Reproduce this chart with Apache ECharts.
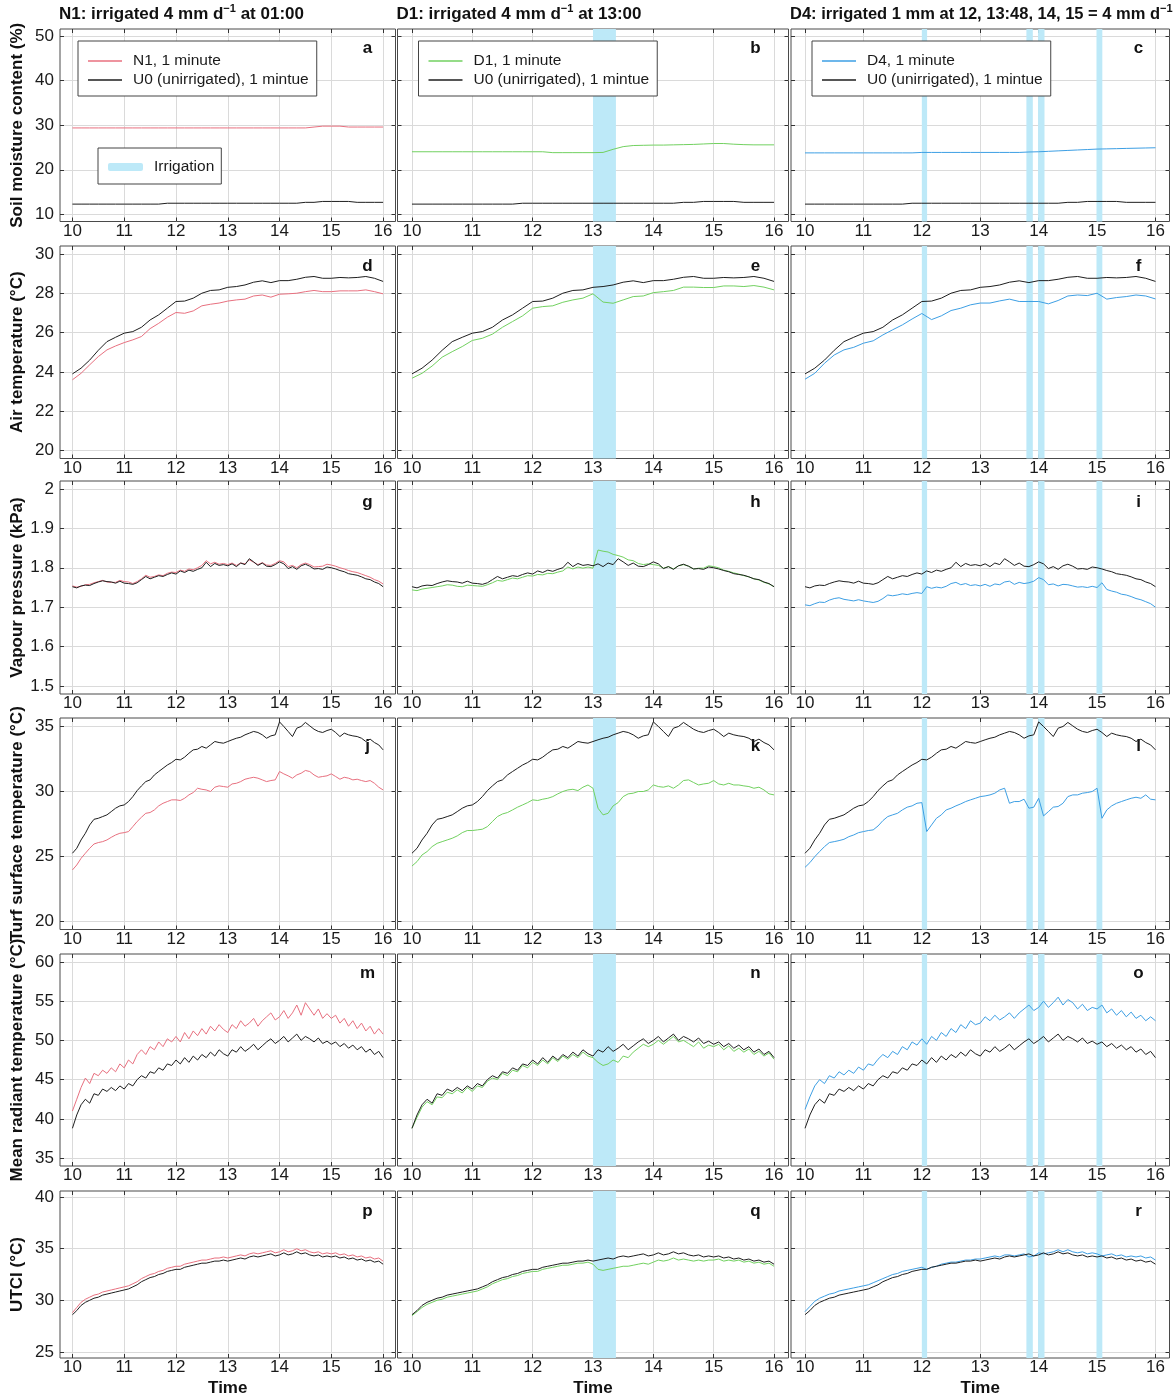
<!DOCTYPE html>
<html>
<head>
<meta charset="utf-8">
<title>Irrigation timing: soil moisture and microclimate, 10:00-16:00</title>
<script src="https://cdn.jsdelivr.net/npm/echarts@6/dist/echarts.min.js"></script>
<style>
  html, body { margin: 0; padding: 0; background: #fff; }
  #chart { width: 1175px; height: 1399px; }
</style>
</head>
<body>
<div id="chart"></div>
<script>
// ---- data ----
// x = hour of day; rows 1-2 sampled every 10 min, rows 3-6 every 5 min
const hourTicks = [10, 11, 12, 13, 14, 15, 16];
const soilTicks = [10, 20, 30, 40, 50];
const airTicks = [20, 22, 24, 26, 28, 30];
const vapourTicks = [1.5, 1.6, 1.7, 1.8, 1.9, 2];
const turfTicks = [20, 25, 30, 35];
const mrtTicks = [35, 40, 45, 50, 55, 60];
const utciTicks = [25, 30, 35, 40];

// irrigation windows, decimal hours
const irrigationD1 = [[13.0, 13.38]];
const irrigationD4 = [[12.0, 12.09], [13.79, 13.9], [13.99, 14.1], [14.99, 15.09]];

// soil moisture content (%)
const soilU0 = [12.3, 12.3, 12.3, 12.3, 12.3, 12.3, 12.3, 12.3, 12.3, 12.3, 12.3, 12.5,
  12.5, 12.5, 12.5, 12.5, 12.5, 12.5, 12.5, 12.5, 12.5, 12.5, 12.5, 12.5,
  12.5, 12.5, 12.5, 12.7, 12.7, 12.9, 12.9, 12.9, 12.9, 12.7, 12.7, 12.7, 12.7];
const soilN1 = [29.4, 29.4, 29.4, 29.4, 29.4, 29.4, 29.4, 29.4, 29.4, 29.4, 29.4, 29.4,
  29.4, 29.4, 29.4, 29.4, 29.4, 29.4, 29.4, 29.4, 29.4, 29.4, 29.4, 29.4,
  29.4, 29.4, 29.4, 29.4, 29.6, 29.8, 29.8, 29.8, 29.6, 29.6, 29.6, 29.6, 29.6];
const soilD1 = [24.05, 24.05, 24.05, 24.05, 24.05, 24.05, 24.05, 24.05, 24.05, 24.05, 24.05, 24.05,
  24.05, 24.05, 23.85, 23.85, 23.85, 23.85, 23.85, 23.9, 24.6, 25.2, 25.45, 25.5,
  25.55, 25.55, 25.6, 25.65, 25.7, 25.8, 25.9, 25.9, 25.75, 25.65, 25.6, 25.6, 25.6];
const soilD4 = [23.8, 23.8, 23.8, 23.8, 23.8, 23.8, 23.8, 23.8, 23.8, 23.8, 23.8, 23.8,
  23.9, 23.9, 23.9, 23.9, 23.9, 23.9, 23.9, 23.9, 23.9, 23.9, 23.9, 24.0,
  24.05, 24.15, 24.25, 24.35, 24.45, 24.55, 24.65, 24.7, 24.75, 24.8, 24.85, 24.9, 24.95];

// air temperature (°C)
const airU0 = [23.9, 24.19, 24.6, 25.1, 25.54, 25.76, 25.97, 26.05, 26.27, 26.64, 26.9, 27.24,
  27.58, 27.6, 27.75, 28.0, 28.14, 28.17, 28.3, 28.34, 28.42, 28.56, 28.63, 28.54,
  28.64, 28.64, 28.71, 28.81, 28.85, 28.76, 28.76, 28.8, 28.78, 28.8, 28.85, 28.76, 28.6];
const airN1 = [23.6, 23.93, 24.36, 24.78, 25.12, 25.32, 25.49, 25.63, 25.8, 26.2, 26.47, 26.78,
  27.02, 26.98, 27.1, 27.36, 27.44, 27.5, 27.6, 27.66, 27.7, 27.86, 27.91, 27.8,
  27.95, 27.97, 28.0, 28.08, 28.14, 28.08, 28.08, 28.12, 28.12, 28.12, 28.17, 28.08, 27.97];
const airD1 = [23.68, 23.93, 24.3, 24.75, 25.03, 25.29, 25.6, 25.71, 25.92, 26.27, 26.56, 26.85,
  27.24, 27.32, 27.36, 27.54, 27.66, 27.75, 27.97, 27.55, 27.49, 27.66, 27.83, 27.86,
  28.03, 28.08, 28.14, 28.31, 28.31, 28.29, 28.29, 28.37, 28.37, 28.34, 28.39, 28.31, 28.17];
const airD4 = [23.63, 23.93, 24.44, 24.86, 25.12, 25.25, 25.46, 25.58, 25.88, 26.14, 26.39, 26.69,
  26.97, 26.66, 26.85, 27.12, 27.24, 27.41, 27.5, 27.5, 27.61, 27.7, 27.58, 27.58,
  27.58, 27.46, 27.63, 27.86, 27.91, 27.88, 28.0, 27.7, 27.78, 27.83, 27.91, 27.86, 27.71];

// vapour pressure (kPa)
const vapourU0 = [1.752, 1.749, 1.754, 1.756, 1.755, 1.760, 1.764, 1.767, 1.765, 1.764, 1.761, 1.766,
  1.761, 1.760, 1.758, 1.762, 1.770, 1.778, 1.772, 1.776, 1.780, 1.778, 1.783, 1.787,
  1.784, 1.792, 1.788, 1.794, 1.791, 1.796, 1.800, 1.814, 1.803, 1.811, 1.806, 1.808,
  1.805, 1.810, 1.803, 1.812, 1.808, 1.823, 1.815, 1.806, 1.812, 1.804, 1.803, 1.808,
  1.815, 1.810, 1.798, 1.803, 1.796, 1.805, 1.809, 1.804, 1.797, 1.798, 1.796, 1.802,
  1.800, 1.797, 1.793, 1.790, 1.785, 1.783, 1.781, 1.777, 1.772, 1.770, 1.764, 1.760, 1.752];
const vapourN1 = [1.754, 1.751, 1.753, 1.757, 1.758, 1.762, 1.765, 1.768, 1.764, 1.763, 1.763, 1.768,
  1.765, 1.764, 1.760, 1.765, 1.772, 1.781, 1.776, 1.778, 1.782, 1.780, 1.786, 1.789,
  1.788, 1.794, 1.791, 1.797, 1.795, 1.800, 1.806, 1.818, 1.810, 1.814, 1.809, 1.811,
  1.808, 1.812, 1.806, 1.812, 1.810, 1.820, 1.814, 1.808, 1.813, 1.807, 1.806, 1.811,
  1.818, 1.815, 1.803, 1.806, 1.800, 1.808, 1.812, 1.808, 1.802, 1.803, 1.804, 1.809,
  1.807, 1.804, 1.800, 1.797, 1.793, 1.790, 1.788, 1.784, 1.780, 1.776, 1.770, 1.766, 1.759];
const vapourD1 = [1.744, 1.742, 1.746, 1.748, 1.750, 1.752, 1.754, 1.757, 1.756, 1.753, 1.752, 1.756,
  1.755, 1.754, 1.753, 1.757, 1.762, 1.768, 1.766, 1.770, 1.774, 1.772, 1.776, 1.780,
  1.779, 1.783, 1.782, 1.786, 1.785, 1.789, 1.792, 1.802, 1.797, 1.802, 1.799, 1.802,
  1.799, 1.845, 1.842, 1.840, 1.834, 1.831, 1.827, 1.820, 1.818, 1.811, 1.808, 1.810,
  1.808, 1.806, 1.799, 1.803, 1.797, 1.805, 1.808, 1.804, 1.797, 1.799, 1.799, 1.805,
  1.803, 1.800, 1.794, 1.791, 1.787, 1.784, 1.780, 1.777, 1.772, 1.769, 1.763, 1.759, 1.752];
const vapourD4 = [1.706, 1.704, 1.709, 1.713, 1.712, 1.718, 1.722, 1.724, 1.720, 1.718, 1.716, 1.719,
  1.716, 1.714, 1.712, 1.715, 1.722, 1.731, 1.729, 1.731, 1.734, 1.732, 1.735, 1.737,
  1.735, 1.752, 1.748, 1.751, 1.749, 1.753, 1.760, 1.763, 1.757, 1.760, 1.755, 1.757,
  1.754, 1.758, 1.753, 1.759, 1.757, 1.764, 1.766, 1.758, 1.763, 1.760, 1.762, 1.766,
  1.775, 1.770, 1.757, 1.759, 1.754, 1.758, 1.757, 1.754, 1.751, 1.752, 1.750, 1.753,
  1.750, 1.762, 1.745, 1.741, 1.738, 1.733, 1.731, 1.727, 1.722, 1.719, 1.714, 1.709, 1.700];

// turf surface temperature (°C)
const turfU0 = [25.24, 25.62, 26.26, 26.77, 27.41, 27.84, 27.92, 28.05, 28.18, 28.43, 28.69, 28.87,
  28.94, 29.2, 29.58, 30.04, 30.4, 30.73, 30.86, 31.24, 31.5, 31.75, 32.0, 32.19,
  32.44, 32.39, 32.6, 32.9, 33.16, 33.21, 33.42, 33.29, 33.54, 33.8, 33.72, 33.67,
  33.8, 33.93, 34.05, 34.13, 34.31, 34.44, 34.57, 34.49, 34.31, 34.05, 34.23, 34.31,
  35.3, 34.95, 34.57, 34.18, 34.82, 34.95, 35.26, 35.0, 34.74, 34.57, 34.49, 34.64,
  34.74, 34.49, 34.18, 34.44, 34.31, 34.23, 34.18, 34.05, 33.8, 33.98, 33.72, 33.54, 33.16];
const turfN1 = [23.96, 24.34, 24.85, 25.24, 25.62, 25.95, 26.06, 26.13, 26.26, 26.46, 26.64, 26.77,
  26.82, 26.9, 27.28, 27.67, 28.0, 28.3, 28.36, 28.56, 28.87, 29.07, 29.2, 29.33,
  29.33, 29.28, 29.45, 29.71, 29.89, 30.22, 30.14, 30.09, 29.97, 30.3, 30.4, 30.35,
  30.3, 30.55, 30.6, 30.73, 30.91, 30.99, 31.06, 30.99, 30.86, 30.73, 30.81, 30.86,
  31.5, 31.32, 31.17, 30.99, 31.24, 31.37, 31.58, 31.5, 31.24, 31.06, 31.12, 31.17,
  31.32, 31.12, 30.91, 31.06, 30.99, 30.86, 30.91, 30.81, 30.73, 30.81, 30.6, 30.3, 30.09];
const turfD1 = [24.26, 24.6, 25.11, 25.37, 25.75, 26.0, 26.13, 26.26, 26.39, 26.57, 26.82, 26.98,
  26.98, 27.03, 27.08, 27.28, 27.67, 28.05, 28.25, 28.36, 28.56, 28.77, 28.94, 29.12,
  29.33, 29.28, 29.38, 29.45, 29.58, 29.79, 29.97, 30.09, 30.14, 30.04, 30.3, 30.47,
  30.22, 28.69, 28.18, 28.3, 28.87, 29.12, 29.58, 29.79, 29.84, 29.97, 29.97, 30.09,
  30.47, 30.35, 30.3, 30.4, 30.22, 30.47, 30.81, 30.86, 30.66, 30.47, 30.55, 30.6,
  30.81, 30.55, 30.47, 30.6, 30.47, 30.47, 30.4, 30.35, 30.22, 30.3, 30.09, 29.79, 29.71];
const turfD4 = [24.16, 24.52, 24.98, 25.37, 25.75, 26.06, 26.13, 26.21, 26.31, 26.51, 26.64, 26.82,
  26.9, 26.98, 27.03, 27.33, 27.74, 28.05, 28.18, 28.3, 28.56, 28.77, 28.87, 29.07,
  29.12, 26.9, 27.41, 27.92, 28.18, 28.56, 28.69, 28.87, 29.02, 29.2, 29.33, 29.45,
  29.58, 29.63, 29.71, 29.84, 30.09, 30.22, 29.07, 29.2, 29.2, 29.38, 28.69, 28.77,
  29.45, 28.1, 28.43, 28.77, 28.82, 29.07, 29.58, 29.71, 29.71, 29.84, 29.89, 29.97,
  30.22, 27.92, 28.56, 28.87, 29.07, 29.2, 29.33, 29.45, 29.53, 29.45, 29.71, 29.38, 29.33];

// mean radiant temperature (°C)
const mrtU0 = [38.8, 40.5, 41.8, 42.5, 42.0, 43.2, 43.0, 43.8, 43.5, 44.0, 43.6, 44.2,
  43.8, 44.5, 44.2, 45.0, 45.5, 45.2, 46.0, 45.8, 46.5, 46.2, 47.0, 46.8,
  47.5, 47.0, 47.8, 47.2, 48.0, 47.5, 48.2, 47.8, 48.5, 48.0, 48.8, 48.3,
  48.0, 48.8, 48.5, 49.2, 48.6, 49.0, 49.5, 48.8, 49.3, 49.8, 50.2, 49.6,
  50.0, 50.5, 49.8, 50.3, 50.8, 50.0, 50.5, 50.2, 49.8, 50.3, 49.6, 49.9,
  49.5, 49.8, 49.2, 49.6, 49.0, 49.4, 48.8, 49.2, 48.5, 48.9, 48.2, 48.6, 47.8];
const mrtN1 = [41.0, 42.5, 44.0, 45.2, 44.5, 45.8, 45.5, 46.2, 45.8, 46.5, 46.0, 47.0,
  46.5, 47.5, 47.0, 48.2, 48.8, 48.2, 49.2, 48.8, 49.8, 49.2, 50.2, 49.8,
  50.5, 49.8, 51.0, 50.2, 51.2, 50.6, 51.5, 50.8, 51.8, 51.2, 52.0, 51.4,
  51.0, 52.0, 51.5, 52.5, 51.8, 52.2, 52.8, 51.8, 52.5, 53.0, 53.5, 52.6,
  53.0, 53.8, 52.8, 53.5, 54.5, 53.2, 54.8, 54.0, 53.2, 54.0, 52.8, 53.4,
  52.8, 53.2, 52.2, 52.8, 51.8, 52.5, 51.5, 52.2, 51.2, 51.8, 50.8, 51.5, 50.8];
const mrtD1 = [38.8, 40.2, 41.5, 42.2, 41.8, 42.8, 42.7, 43.4, 43.2, 43.7, 43.3, 44.0,
  43.5, 44.2, 44.0, 44.8, 45.2, 45.0, 45.8, 45.5, 46.2, 46.0, 46.8, 46.5,
  47.2, 46.8, 47.5, 47.0, 47.8, 47.3, 48.0, 47.6, 48.2, 47.8, 48.5, 48.0,
  47.8, 47.2, 46.8, 47.0, 47.5, 47.2, 48.0, 47.8, 48.5, 49.0, 49.5, 49.2,
  49.5, 50.0, 49.5, 50.0, 50.5, 49.8, 50.0, 49.6, 49.2, 49.8, 49.0, 49.4,
  49.2, 49.5, 48.8, 49.3, 48.6, 49.0, 48.5, 48.9, 48.2, 48.6, 48.0, 48.4, 47.6];
const mrtD4 = [41.2, 42.8, 44.2, 45.0, 44.5, 45.5, 45.2, 46.0, 45.6, 46.2, 45.8, 46.6,
  46.2, 47.0, 46.8, 47.6, 48.2, 47.8, 48.6, 48.2, 49.2, 48.8, 49.8, 49.4,
  50.2, 49.5, 50.5, 50.0, 51.0, 50.5, 51.5, 51.0, 52.0, 51.5, 52.5, 52.0,
  52.2, 53.0, 52.5, 53.2, 52.6, 53.0, 53.5, 52.8, 53.5, 54.0, 54.5, 53.8,
  54.2, 55.0, 54.2, 54.8, 55.5, 54.5, 55.2, 54.8, 54.0, 54.6, 53.8, 54.2,
  54.0, 54.5, 53.5, 54.0, 53.2, 53.8, 53.0, 53.6, 52.8, 53.2, 52.5, 53.0, 52.5];

// UTCI (°C)
const utciU0 = [28.6, 29.0, 29.5, 29.8, 30.0, 30.2, 30.3, 30.5, 30.6, 30.7, 30.8, 30.9,
  31.0, 31.1, 31.3, 31.5, 31.8, 32.0, 32.2, 32.3, 32.5, 32.6, 32.8, 32.9,
  33.0, 33.0, 33.2, 33.3, 33.4, 33.5, 33.6, 33.6, 33.7, 33.8, 33.8, 33.9,
  33.8, 33.9, 34.0, 34.1, 34.0, 34.2, 34.3, 34.2, 34.3, 34.4, 34.5, 34.3,
  34.4, 34.6, 34.4, 34.5, 34.7, 34.5, 34.6, 34.4, 34.3, 34.4, 34.2, 34.3,
  34.2, 34.3, 34.1, 34.2, 34.0, 34.1, 33.9, 34.0, 33.8, 33.9, 33.7, 33.8, 33.5];
const utciN1 = [28.8, 29.3, 29.8, 30.1, 30.3, 30.5, 30.6, 30.8, 30.9, 31.0, 31.1, 31.2,
  31.3, 31.4, 31.6, 31.8, 32.1, 32.3, 32.5, 32.6, 32.8, 32.9, 33.1, 33.2,
  33.3, 33.3, 33.5, 33.6, 33.7, 33.8, 33.9, 33.9, 34.0, 34.1, 34.1, 34.2,
  34.1, 34.2, 34.3, 34.4, 34.3, 34.5, 34.6, 34.5, 34.6, 34.7, 34.8, 34.6,
  34.7, 34.9, 34.7, 34.8, 35.0, 34.8, 34.9, 34.7, 34.6, 34.7, 34.5, 34.6,
  34.5, 34.6, 34.4, 34.5, 34.3, 34.4, 34.2, 34.3, 34.1, 34.2, 34.0, 34.1, 33.8];
const utciD1 = [28.5, 28.9, 29.3, 29.6, 29.8, 30.0, 30.1, 30.3, 30.4, 30.5, 30.6, 30.7,
  30.8, 30.9, 31.1, 31.3, 31.6, 31.8, 32.0, 32.1, 32.3, 32.4, 32.6, 32.7,
  32.8, 32.8, 33.0, 33.1, 33.2, 33.3, 33.4, 33.4, 33.5, 33.6, 33.6, 33.7,
  33.5, 33.0, 32.9, 33.0, 33.1, 33.2, 33.3, 33.3, 33.4, 33.5, 33.6, 33.5,
  33.7, 33.9, 33.8, 33.9, 34.1, 33.9, 34.0, 33.9, 33.8, 33.9, 33.8, 33.9,
  33.9, 34.0, 33.8, 33.9, 33.8, 33.9, 33.7, 33.8, 33.6, 33.7, 33.5, 33.6, 33.3];
const utciD4 = [28.9, 29.4, 29.9, 30.2, 30.4, 30.6, 30.7, 30.9, 31.0, 31.1, 31.2, 31.3,
  31.4, 31.5, 31.7, 31.9, 32.1, 32.3, 32.5, 32.6, 32.8, 32.9, 33.0, 33.1,
  33.2, 33.0, 33.2, 33.3, 33.5, 33.6, 33.7, 33.7, 33.8, 33.9, 33.9, 34.0,
  34.0, 34.1, 34.2, 34.3, 34.2, 34.4, 34.4, 34.3, 34.4, 34.5, 34.2, 34.3,
  34.6, 34.5, 34.6, 34.7, 34.9, 34.7, 34.9, 34.7, 34.6, 34.7, 34.5, 34.6,
  34.5, 34.3, 34.4, 34.5, 34.3, 34.4, 34.2, 34.3, 34.2, 34.3, 34.1, 34.2, 33.9];

// ---- labels ----
const panelTitles = ['N1: irrigated 4 mm d{sup|\u22121} at 01:00',
  'D1: irrigated 4 mm d{sup|\u22121} at 13:00',
  'D4: irrigated 1 mm at 12, 13:48, 14, 15 = 4 mm d{sup|\u22121}'];
const treatNames = ['N1, 1 minute', 'D1, 1 minute', 'D4, 1 minute'];
const u0Name = 'U0 (unirrigated), 1 mintue';
const rowNames = ['Soil moisture content (%)', 'Air temperature (\u00b0C)', 'Vapour pressure (kPa)',
  'Turf surface temperature (\u00b0C)', 'Mean radiant temperature (\u00b0C)', 'UTCI (\u00b0C)'];
const panelLetters = [['a', 'b', 'c'], ['d', 'e', 'f'], ['g', 'h', 'i'],
  ['j', 'k', 'l'], ['m', 'n', 'o'], ['p', 'q', 'r']];

const rowData = [
  { u0: soilU0, treat: [soilN1, soilD1, soilD4], ticks: soilTicks },
  { u0: airU0, treat: [airN1, airD1, airD4], ticks: airTicks },
  { u0: vapourU0, treat: [vapourN1, vapourD1, vapourD4], ticks: vapourTicks },
  { u0: turfU0, treat: [turfN1, turfD1, turfD4], ticks: turfTicks },
  { u0: mrtU0, treat: [mrtN1, mrtD1, mrtD4], ticks: mrtTicks },
  { u0: utciU0, treat: [utciN1, utciD1, utciD4], ticks: utciTicks }
];
const irrigation = [[], irrigationD1, irrigationD4];

// ---- layout / style ----
const FONT = "'Liberation Sans', Arial, Helvetica, sans-serif";
const treatColors = ['#e8707f', '#72d160', '#3d9fe4'];
const u0Color = '#1e1e1e';
const irrColor = '#bde9f8';
const X_MIN = 9.76, X_MAX = 16.24;

const colLayout = [
  { left: 60, width: 335.5, letterOff: 28, titleSize: 17 },
  { left: 397.5, width: 391, letterOff: 33, titleSize: 17 },
  { left: 791, width: 378.5, letterOff: 31, titleSize: 16.5 }
];
const rowLayout = [
  { top: 29, height: 192.5, min: 8.4, max: 51.6, letterDy: 19 },
  { top: 246, height: 212.5, min: 19.6, max: 30.4, letterDy: 20 },
  { top: 481, height: 213, min: 1.48, max: 2.02, letterDy: 21 },
  { top: 718, height: 211.5, min: 19.4, max: 35.6, letterDy: 28 },
  { top: 954, height: 212, min: 34, max: 61, letterDy: 19 },
  { top: 1191, height: 167, min: 24.4, max: 40.6, letterDy: 20 }
];

function toPairs(values) {
  const step = 6 / (values.length - 1);
  return values.map((v, i) => [10 + i * step, v]);
}

const chart = echarts.init(document.getElementById('chart'));

const grids = [], xAxes = [], yAxes = [], series = [], graphics = [];
const tickStyle = { inside: true, length: 4, lineStyle: { color: '#333', width: 1 } };

rowLayout.forEach((rl, r) => {
  const rd = rowData[r];
  colLayout.forEach((cl, c) => {
    const g = grids.length;
    grids.push({
      left: cl.left, top: rl.top, width: cl.width, height: rl.height,
      show: true, borderColor: '#4a4a4a', borderWidth: 1, backgroundColor: 'transparent',
      containLabel: false, outerBoundsMode: 'none'
    });
    // bottom + top x axes
    xAxes.push({
      gridIndex: g, type: 'value', min: X_MIN, max: X_MAX, position: 'bottom',
      axisLine: { show: false },
      axisTick: Object.assign({ customValues: hourTicks }, tickStyle),
      axisLabel: { customValues: hourTicks, margin: 1, fontSize: 17, color: '#1a1a1a', fontFamily: FONT },
      splitLine: { show: true, lineStyle: { color: '#dadada', width: 1 } },
      name: r === 5 ? 'Time' : '', nameLocation: 'middle', nameGap: 22,
      nameTextStyle: { fontSize: 17, fontWeight: 'bold', color: '#111', fontFamily: FONT }
    });
    xAxes.push({
      gridIndex: g, type: 'value', min: X_MIN, max: X_MAX, position: 'top',
      axisLine: { show: false },
      axisTick: Object.assign({ customValues: hourTicks }, tickStyle),
      axisLabel: { show: false }, splitLine: { show: false }
    });
    // left + right y axes
    yAxes.push({
      gridIndex: g, type: 'value', min: rl.min, max: rl.max, position: 'left',
      axisLine: { show: false },
      axisTick: Object.assign({ customValues: rd.ticks }, tickStyle),
      axisLabel: { show: c === 0, customValues: rd.ticks, margin: 6, fontSize: 17, color: '#1a1a1a', fontFamily: FONT },
      splitLine: { show: true, lineStyle: { color: '#dadada', width: 1 } },
      name: c === 0 ? rowNames[r] : '', nameLocation: 'middle', nameRotate: 90, nameGap: 34,
      nameTextStyle: { fontSize: 17, fontWeight: 'bold', color: '#111', fontFamily: FONT }
    });
    yAxes.push({
      gridIndex: g, type: 'value', min: rl.min, max: rl.max, position: 'right',
      axisLine: { show: false },
      axisTick: Object.assign({ customValues: rd.ticks }, tickStyle),
      axisLabel: { show: false }, splitLine: { show: false }
    });

    const xi = 2 * g, yi = 2 * g;
    // irrigation bands (drawn first, under the lines); col 1 keeps an empty one for the legend
    if (irrigation[c].length || (r === 0 && c === 0)) {
      series.push({
        name: 'Irrigation', type: 'line', xAxisIndex: xi, yAxisIndex: yi, data: [],
        color: irrColor, silent: true, symbol: 'none',
        markArea: {
          silent: true, itemStyle: { color: irrColor, opacity: 1 },
          data: irrigation[c].map(b => [{ xAxis: b[0] }, { xAxis: b[1] }])
        }
      });
    }
    series.push({
      name: treatNames[c], type: 'line', xAxisIndex: xi, yAxisIndex: yi,
      data: toPairs(rd.treat[c]), color: treatColors[c], showSymbol: false, symbol: 'none',
      lineStyle: { width: 1, color: treatColors[c] }, silent: true, animation: false
    });
    series.push({
      name: u0Name, type: 'line', xAxisIndex: xi, yAxisIndex: yi,
      data: toPairs(rd.u0), color: u0Color, showSymbol: false, symbol: 'none',
      lineStyle: { width: 1, color: u0Color }, silent: true, animation: false
    });

    graphics.push({
      type: 'text', x: cl.left + cl.width - cl.letterOff, y: rl.top + rl.letterDy, silent: true,
      style: { text: panelLetters[r][c], fontSize: 17, fontWeight: 'bold', fontFamily: FONT,
        fill: '#111', align: 'center', verticalAlign: 'middle' }
    });
  });
});

const legendBase = {
  orient: 'vertical', top: 41, padding: [12, 8, 8, 10], itemGap: 3,
  itemWidth: 34, itemHeight: 1.6, icon: 'rect',
  borderColor: '#444', borderWidth: 1, backgroundColor: '#fff',
  textStyle: { fontSize: 15.5, color: '#1a1a1a', fontFamily: FONT, lineHeight: 16, padding: [0, 0, 0, 6] },
  selectedMode: false
};
const legends = colLayout.map((cl, c) => Object.assign({}, legendBase, {
  left: cl.left + 18 + (c === 0 ? 0 : 3),
  data: [treatNames[c], u0Name]
}));
legends.push({
  orient: 'vertical', left: 98, top: 148, padding: [11, 7, 9, 10],
  itemWidth: 35, itemHeight: 8, icon: 'roundRect',
  borderColor: '#444', borderWidth: 1, backgroundColor: '#fff',
  textStyle: { fontSize: 15.5, color: '#1a1a1a', fontFamily: FONT, lineHeight: 16, padding: [0, 0, 0, 6] },
  selectedMode: false, data: ['Irrigation']
});

const titles = panelTitles.map((t, c) => ({
  text: t, left: colLayout[c].left - 1, top: 3, padding: 0,
  textStyle: {
    fontSize: colLayout[c].titleSize, fontWeight: 'bold', color: '#111', fontFamily: FONT, lineHeight: 23,
    rich: { sup: { fontSize: 11, fontWeight: 'bold', color: '#111', fontFamily: FONT,
      lineHeight: 11, verticalAlign: 'top' } }
  }
}));

chart.setOption({
  animation: false,
  backgroundColor: '#fff',
  title: titles,
  legend: legends,
  grid: grids,
  xAxis: xAxes,
  yAxis: yAxes,
  series: series,
  graphic: graphics
});

window.addEventListener('resize', () => chart.resize());
</script>
</body>
</html>
